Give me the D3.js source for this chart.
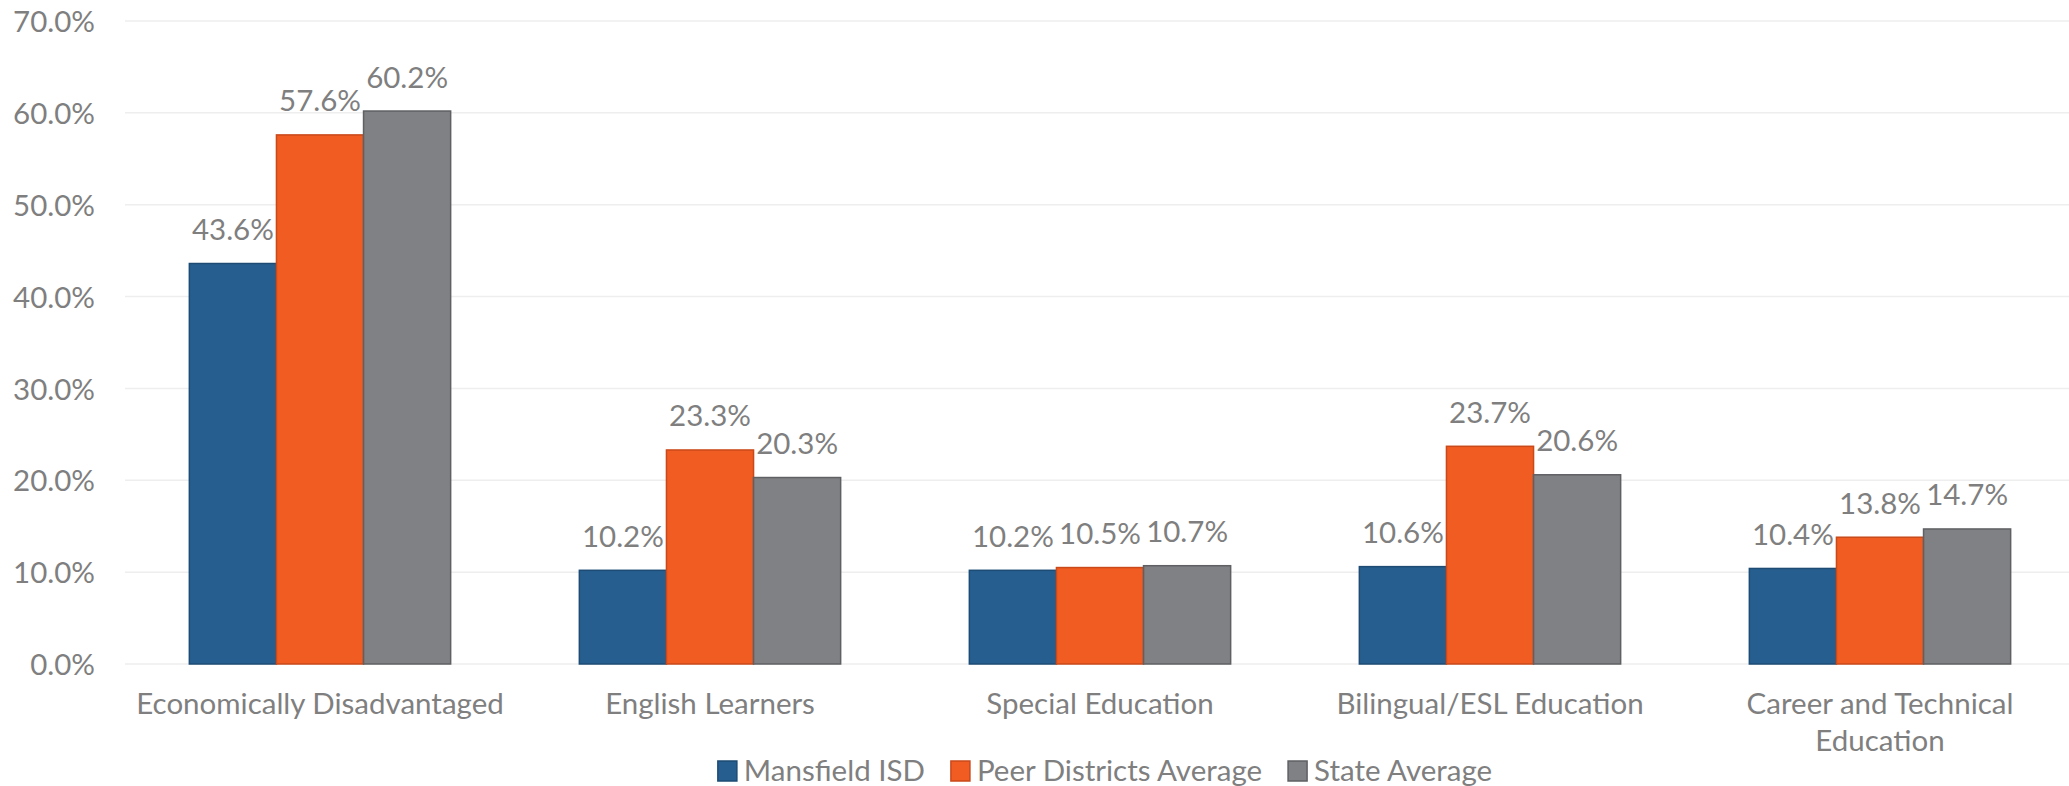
<!DOCTYPE html>
<html>
<head>
<meta charset="utf-8">
<script src="https://cdn.jsdelivr.net/npm/d3@7"></script>
<style>
  html, body { margin: 0; padding: 0; background: #fff; }
  svg { display: block; font-family: Lato, "Open Sans", sans-serif; }
</style>
</head>
<body>
<svg id="chart" width="2069" height="786"></svg>
<script>
// Student population shares by program, district vs. peers vs. state
const categories = [
  "Economically Disadvantaged",
  "English Learners",
  "Special Education",
  "Bilingual/ESL Education",
  "Career and Technical Education"
];
const seriesNames = ["Mansfield ISD", "Peer Districts Average", "State Average"];
const mansfieldISD = [43.6, 10.2, 10.2, 10.6, 10.4];
const peerAverage  = [57.6, 23.3, 10.5, 23.7, 13.8];
const stateAverage = [60.2, 20.3, 10.7, 20.6, 14.7];
const yTicks = [0, 10, 20, 30, 40, 50, 60, 70];

const fills   = ["#265F8F", "#F15C22", "#808184"];
const strokes = ["#1D4B74", "#C9491A", "#5F6063"];
const textColor = "#7F7F7F";
const fontSize = 29.5;

const seriesValues = [mansfieldISD, peerAverage, stateAverage];
const rows = categories.map((c, i) => ({
  category: c,
  values: seriesNames.map((s, k) => ({ series: s, k, value: seriesValues[k][i] }))
}));

const svg = d3.select("#chart");
const plot = { left: 125, right: 2075, top: 21, bottom: 664 };

const x0 = d3.scaleBand()
  .domain(categories)
  .range([plot.left, plot.right])
  .paddingInner(0.33)
  .paddingOuter(0.165);

const x1 = d3.scaleBand()
  .domain(seriesNames)
  .range([0, x0.bandwidth()])
  .padding(0);

const y = d3.scaleLinear().domain([0, 70]).range([plot.bottom, plot.top]);

// Horizontal gridlines
svg.append("g")
  .selectAll("line")
  .data(yTicks)
  .join("line")
  .attr("x1", plot.left)
  .attr("x2", plot.right)
  .attr("y1", d => y(d))
  .attr("y2", d => y(d))
  .attr("stroke", "#EEEEEE")
  .attr("stroke-width", 1.5);

// Y axis tick labels
const yAxis = d3.axisLeft(y)
  .tickValues(yTicks)
  .tickSize(0)
  .tickPadding(0)
  .tickFormat(d => d.toFixed(1) + "%");

svg.append("g")
  .attr("transform", "translate(95,0)")
  .call(yAxis)
  .call(g => g.select(".domain").remove())
  .call(g => g.selectAll("text")
    .attr("fill", textColor)
    .attr("font-size", fontSize)
    .attr("font-family", "Lato, 'Open Sans', sans-serif")
    .attr("dy", "0.36em"));

// Bars
const groups = svg.append("g")
  .selectAll("g")
  .data(rows)
  .join("g")
  .attr("transform", d => `translate(${x0(d.category)},0)`);

groups.selectAll("rect")
  .data(d => d.values)
  .join("rect")
  .attr("x", d => x1(d.series))
  .attr("y", d => y(d.value))
  .attr("width", x1.bandwidth())
  .attr("height", d => y(0) - y(d.value))
  .attr("fill", d => fills[d.k])
  .attr("stroke", d => strokes[d.k])
  .attr("stroke-width", 1.5);

// Value labels above bars
groups.selectAll("text")
  .data(d => d.values)
  .join("text")
  .attr("x", d => x1(d.series) + x1.bandwidth() / 2)
  .attr("y", d => y(d.value) - 23.5)
  .attr("text-anchor", "middle")
  .attr("fill", textColor)
  .attr("font-size", fontSize)
  .text(d => d.value.toFixed(1) + "%");

// Category labels, wrapped to the category width
const xAxis = d3.axisBottom(x0).tickSize(0).tickPadding(0);
const xg = svg.append("g")
  .attr("transform", `translate(0,${plot.bottom})`)
  .call(xAxis)
  .call(g => g.select(".domain").remove());

xg.selectAll("text")
  .attr("fill", textColor)
  .attr("font-size", fontSize)
  .attr("font-family", "Lato, 'Open Sans', sans-serif")
  .attr("dy", null)
  .attr("y", 50)
  .each(function (d) {
    const t = d3.select(this);
    const words = d.split(" ");
    const maxW = x0.step() - 10;
    t.text(null);
    let line = [];
    let lineNo = 0;
    let tspan = t.append("tspan").attr("x", 0).attr("y", 50);
    words.forEach(w => {
      line.push(w);
      tspan.text(line.join(" "));
      if (tspan.node().getComputedTextLength() > maxW && line.length > 1) {
        line.pop();
        tspan.text(line.join(" "));
        line = [w];
        lineNo += 1;
        tspan = t.append("tspan").attr("x", 0).attr("y", 50 + lineNo * 37).text(w);
      }
    });
  });

// Legend, centred under the plot
const legend = svg.append("g");
const items = legend.selectAll("g")
  .data(seriesNames)
  .join("g");
items.append("rect")
  .attr("width", 19)
  .attr("height", 20)
  .attr("y", -20)
  .attr("fill", (d, i) => fills[i])
  .attr("stroke", (d, i) => strokes[i])
  .attr("stroke-width", 1.5);
items.append("text")
  .attr("x", 26)
  .attr("y", 0)
  .attr("fill", textColor)
  .attr("font-size", fontSize)
  .text(d => d);

let offset = 0;
const gap = 26;
items.each(function () {
  const g = d3.select(this);
  g.attr("transform", `translate(${offset},0)`);
  offset += 26 + g.select("text").node().getComputedTextLength() + gap;
});
const totalW = offset - gap;
legend.attr("transform", `translate(${(plot.left + plot.right) / 2 - totalW / 2 + 5},781)`);
</script>
</body>
</html>
